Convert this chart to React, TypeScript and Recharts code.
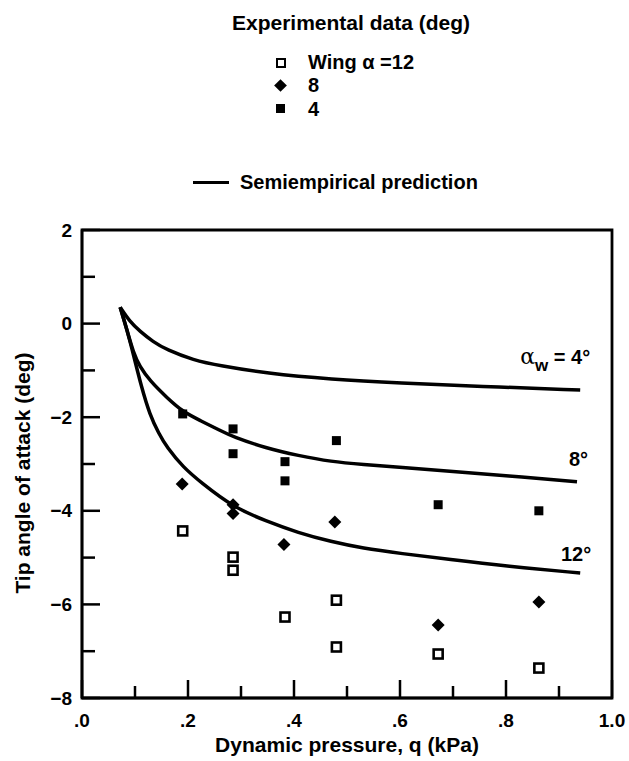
import React from 'react';
import { ComposedChart, Line, Scatter, XAxis, YAxis, ReferenceArea } from 'recharts';

const xTickValues = [0, 0.1, 0.2, 0.3, 0.4, 0.5, 0.6, 0.7, 0.8, 0.9, 1.0];
const xTickLabels = ['.0', '', '.2', '', '.4', '', '.6', '', '.8', '', '1.0'];
const yTickValues = [-8, -7, -6, -5, -4, -3, -2, -1, 0, 1, 2];
const yTickLabels = ['\u22128', '', '\u22126', '', '\u22124', '', '\u22122', '', '0', '', '2'];

// Semiempirical prediction curves
const curve4 = [
  { q: 0.072, a: 0.35 }, { q: 0.091, a: 0.03 }, { q: 0.109, a: -0.16 }, { q: 0.134, a: -0.39 },
  { q: 0.16, a: -0.56 }, { q: 0.21, a: -0.78 }, { q: 0.26, a: -0.9 }, { q: 0.347, a: -1.06 },
  { q: 0.47, a: -1.19 }, { q: 0.6, a: -1.27 }, { q: 0.75, a: -1.34 }, { q: 0.94, a: -1.42 },
];
const curve8 = [
  { q: 0.072, a: 0.35 }, { q: 0.085, a: -0.14 }, { q: 0.097, a: -0.62 }, { q: 0.109, a: -0.92 },
  { q: 0.128, a: -1.22 }, { q: 0.16, a: -1.58 }, { q: 0.191, a: -1.89 }, { q: 0.223, a: -2.07 },
  { q: 0.26, a: -2.28 }, { q: 0.285, a: -2.42 }, { q: 0.347, a: -2.66 }, { q: 0.408, a: -2.82 },
  { q: 0.47, a: -2.95 }, { q: 0.53, a: -3.01 }, { q: 0.6, a: -3.07 }, { q: 0.7, a: -3.16 },
  { q: 0.8, a: -3.25 }, { q: 0.934, a: -3.38 },
];
const curve12 = [
  { q: 0.072, a: 0.35 }, { q: 0.085, a: -0.14 }, { q: 0.097, a: -0.66 }, { q: 0.112, a: -1.35 },
  { q: 0.128, a: -1.95 }, { q: 0.145, a: -2.35 }, { q: 0.16, a: -2.64 }, { q: 0.191, a: -3.07 },
  { q: 0.223, a: -3.38 }, { q: 0.285, a: -3.92 }, { q: 0.347, a: -4.22 }, { q: 0.408, a: -4.47 },
  { q: 0.47, a: -4.66 }, { q: 0.53, a: -4.8 }, { q: 0.6, a: -4.91 }, { q: 0.7, a: -5.05 },
  { q: 0.8, a: -5.18 }, { q: 0.94, a: -5.33 },
];

// Experimental data
const exp12 = [
  { q: 0.19, a: -4.43 }, { q: 0.285, a: -4.99 }, { q: 0.285, a: -5.27 }, { q: 0.383, a: -6.27 },
  { q: 0.48, a: -5.91 }, { q: 0.48, a: -6.91 }, { q: 0.672, a: -7.06 }, { q: 0.862, a: -7.36 },
];
const exp8 = [
  { q: 0.189, a: -3.43 }, { q: 0.285, a: -3.87 }, { q: 0.285, a: -4.06 }, { q: 0.381, a: -4.72 },
  { q: 0.477, a: -4.24 }, { q: 0.672, a: -6.44 }, { q: 0.862, a: -5.95 },
];
const exp4 = [
  { q: 0.19, a: -1.93 }, { q: 0.285, a: -2.25 }, { q: 0.285, a: -2.78 }, { q: 0.383, a: -2.95 },
  { q: 0.383, a: -3.36 }, { q: 0.48, a: -2.5 }, { q: 0.672, a: -3.87 }, { q: 0.862, a: -4.0 },
];

const FONT = "'Liberation Sans', Arial, Helvetica, sans-serif";
const X_MARGIN = 22;
const Y_MARGIN = 10;

const XTick = (props: any) => {
  const { x, y, payload } = props;
  const i = xTickValues.findIndex((v) => Math.abs(v - payload.value) < 1e-9);
  const label = i >= 0 ? xTickLabels[i] : '';
  const axisY = y - X_MARGIN;
  const len = label ? 18 : 12;
  return (
    <g>
      <line x1={x} x2={x} y1={axisY} y2={axisY - len} stroke="#000" strokeWidth={2.5} />
      {label ? (
        <text x={x} y={y} dy="0.35em" textAnchor="middle" fontFamily={FONT} fontWeight="bold" fontSize={19} fill="#000">
          {label}
        </text>
      ) : null}
    </g>
  );
};

const YTick = (props: any) => {
  const { x, y, payload } = props;
  const i = yTickValues.findIndex((v) => Math.abs(v - payload.value) < 1e-9);
  const label = i >= 0 ? yTickLabels[i] : '';
  const axisX = x + Y_MARGIN;
  const len = label ? 18 : 13;
  return (
    <g>
      <line x1={axisX} x2={axisX + len} y1={y} y2={y} stroke="#000" strokeWidth={2.5} />
      {label ? (
        <text x={x} y={y} dy="0.35em" textAnchor="end" fontFamily={FONT} fontWeight="bold" fontSize={19} fill="#000">
          {label}
        </text>
      ) : null}
    </g>
  );
};

const OpenSquare = (p: any) => (
  <rect x={p.cx - 4.5} y={p.cy - 4.5} width={9} height={9} fill="#fff" stroke="#000" strokeWidth={2.6} />
);
const FilledSquare = (p: any) => <rect x={p.cx - 4.5} y={p.cy - 4.5} width={9} height={9} fill="#000" />;
const Diamond = (p: any) => (
  <polygon
    points={`${p.cx},${p.cy - 6.5} ${p.cx + 6.5},${p.cy} ${p.cx},${p.cy + 6.5} ${p.cx - 6.5},${p.cy}`}
    fill="#000"
  />
);

const endLabel = (kind: string, lastIndex: number) => (props: any) => {
  const { x, y, index } = props;
  if (index !== lastIndex) return <g key={`l-${kind}-${index}`} />;
  if (kind === '4') {
    return (
      <text key="l4" x={x + 10} y={y - 26} textAnchor="end" fontFamily={FONT} fontWeight="bold" fontSize={20} fill="#000">
        <tspan fontSize={22} fontWeight="normal" fontFamily="'DejaVu Serif', serif">α</tspan>
        <tspan dy={7} fontSize={17}>w</tspan>
        <tspan dy={-7}> = 4°</tspan>
      </text>
    );
  }
  const dy = kind === '8' ? -16 : -12;
  return (
    <text key={`l${kind}`} x={x + 11} y={y + dy} textAnchor="end" fontFamily={FONT} fontWeight="bold" fontSize={20} fill="#000">
      {kind}°
    </text>
  );
};

const legendText: React.CSSProperties = {
  position: 'absolute',
  fontFamily: FONT,
  fontWeight: 'bold',
  fontSize: 20,
  lineHeight: '20px',
  color: '#000',
  whiteSpace: 'nowrap',
};

export default function App() {
  return (
    <div style={{ position: 'absolute', left: 0, top: 0, width: 629, height: 761, background: '#fff' }}>
      <ComposedChart
        width={629}
        height={761}
        margin={{ top: 230, right: 17, bottom: 3, left: 22 }}
        style={{ position: 'absolute', left: 0, top: 0 }}
      >
        <XAxis
          dataKey="q"
          type="number"
          domain={[0, 1]}
          ticks={xTickValues}
          interval={0}
          height={60}
          tickSize={0}
          tickMargin={X_MARGIN}
          tick={<XTick />}
          axisLine={{ stroke: '#000', strokeWidth: 2.5 }}
          allowDataOverflow
          label={{
            value: 'Dynamic pressure, q (kPa)',
            position: 'insideBottom',
            offset: 6,
            fill: '#000',
            fontFamily: FONT,
            fontWeight: 'bold',
            fontSize: 21,
          }}
        />
        <YAxis
          dataKey="a"
          type="number"
          domain={[-8, 2]}
          ticks={yTickValues}
          interval={0}
          width={60}
          tickSize={0}
          tickMargin={Y_MARGIN}
          tick={<YTick />}
          axisLine={{ stroke: '#000', strokeWidth: 2.5 }}
          allowDataOverflow
          label={{
            value: 'Tip angle of attack (deg)',
            angle: -90,
            position: 'insideLeft',
            offset: 1,
            dy: 9,
            fill: '#000',
            fontFamily: FONT,
            fontWeight: 'bold',
            fontSize: 21,
            style: { textAnchor: 'middle' },
          }}
        />
        <ReferenceArea
          x1={0}
          x2={1}
          y1={-8}
          y2={2}
          fill="#fff"
          fillOpacity={0}
          stroke="#000"
          strokeWidth={2.8}
          ifOverflow="visible"
        />
        <Line
          data={curve4}
          dataKey="a"
          type="basis"
          stroke="#000"
          strokeWidth={3.5}
          dot={false}
          activeDot={false}
          isAnimationActive={false}
          label={endLabel('4', curve4.length - 1)}
        />
        <Line
          data={curve8}
          dataKey="a"
          type="basis"
          stroke="#000"
          strokeWidth={3.5}
          dot={false}
          activeDot={false}
          isAnimationActive={false}
          label={endLabel('8', curve8.length - 1)}
        />
        <Line
          data={curve12}
          dataKey="a"
          type="basis"
          stroke="#000"
          strokeWidth={3.5}
          dot={false}
          activeDot={false}
          isAnimationActive={false}
          label={endLabel('12', curve12.length - 1)}
        />
        <Scatter data={exp12} dataKey="a" shape={<OpenSquare />} isAnimationActive={false} />
        <Scatter data={exp8} dataKey="a" shape={<Diamond />} isAnimationActive={false} />
        <Scatter data={exp4} dataKey="a" shape={<FilledSquare />} isAnimationActive={false} />
      </ComposedChart>

      {/* Legend */}
      <div style={{ ...legendText, fontSize: 21, lineHeight: '22px', left: 0, width: 702, textAlign: 'center', top: 12 }}>
        Experimental data (deg)
      </div>
      <div style={{ position: 'absolute', left: 276, top: 58, width: 6, height: 6, border: '2.5px solid #000', background: '#fff' }} />
      <div style={{ ...legendText, left: 308, top: 52 }}>Wing α =12</div>
      <div style={{ position: 'absolute', left: 276, top: 81, width: 9, height: 9, background: '#000', transform: 'rotate(45deg)' }} />
      <div style={{ ...legendText, left: 308, top: 75 }}>8</div>
      <div style={{ position: 'absolute', left: 276, top: 104, width: 9, height: 9, background: '#000' }} />
      <div style={{ ...legendText, left: 308, top: 99 }}>4</div>
      <div style={{ position: 'absolute', left: 193, top: 181, width: 36, height: 3, background: '#000' }} />
      <div style={{ ...legendText, left: 240, top: 172 }}>Semiempirical prediction</div>
    </div>
  );
}
